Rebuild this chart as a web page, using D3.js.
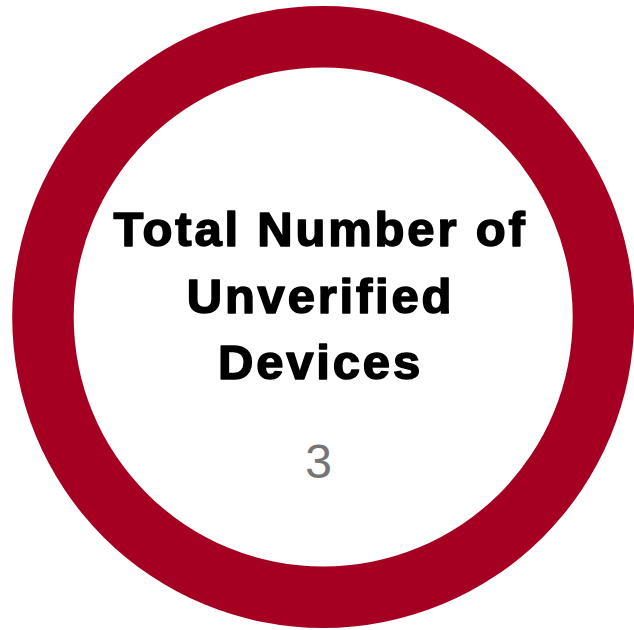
<!DOCTYPE html>
<html>
<head>
<meta charset="utf-8">
<script src="https://cdn.jsdelivr.net/npm/d3@7"></script>
<style>
  html, body { margin: 0; padding: 0; background: #ffffff; overflow: hidden; }
  svg { display: block; }
</style>
</head>
<body>
<svg id="chart" width="634" height="630"></svg>
<script>
// Data
const categories = ["Unverified Devices"];
const values = [3];
const titleLines = ["Total Number of", "Unverified", "Devices"];
const ringColors = ["#a50021"];

const width = 634, height = 630;
const cx = 323.2, cy = 317, outerR = 311, innerR = 249.5;

const svg = d3.select("#chart");
const g = svg.append("g").attr("transform", `translate(${cx},${cy})`);

const pie = d3.pie().sort(null).value(d => d.value);
const arc = d3.arc().innerRadius(innerR).outerRadius(outerR);
const color = d3.scaleOrdinal().domain(categories).range(ringColors);

const data = categories.map((c, i) => ({ name: c, value: values[i] }));

g.selectAll("path.slice")
  .data(pie(data))
  .join("path")
  .attr("class", "slice")
  .attr("d", arc)
  .attr("fill", d => color(d.data.name));

// Title text
const tx = 320.5 - cx;
const lineY = [246 - cy, 312.5 - cy, 379 - cy];
g.selectAll("text.title")
  .data(titleLines)
  .join("text")
  .attr("class", "title")
  .attr("x", tx)
  .attr("y", (d, i) => lineY[i])
  .attr("text-anchor", "middle")
  .style("font-family", "'Liberation Sans', Arial, sans-serif")
  .style("font-weight", "bold")
  .style("font-size", "49px")
  .style("letter-spacing", "2.8px")
  .attr("fill", "#000000")
  .attr("stroke", "#000000")
  .attr("stroke-width", 1.6)
  .attr("stroke-linejoin", "round")
  .text(d => d);

// Value
g.append("text")
  .attr("x", 318.5 - cx)
  .attr("y", 478.3 - cy)
  .attr("text-anchor", "middle")
  .style("font-family", "'Liberation Sans', Arial, sans-serif")
  .style("font-size", "48px")
  .attr("fill", "#757575")
  .text(d3.sum(values));
</script>
</body>
</html>
